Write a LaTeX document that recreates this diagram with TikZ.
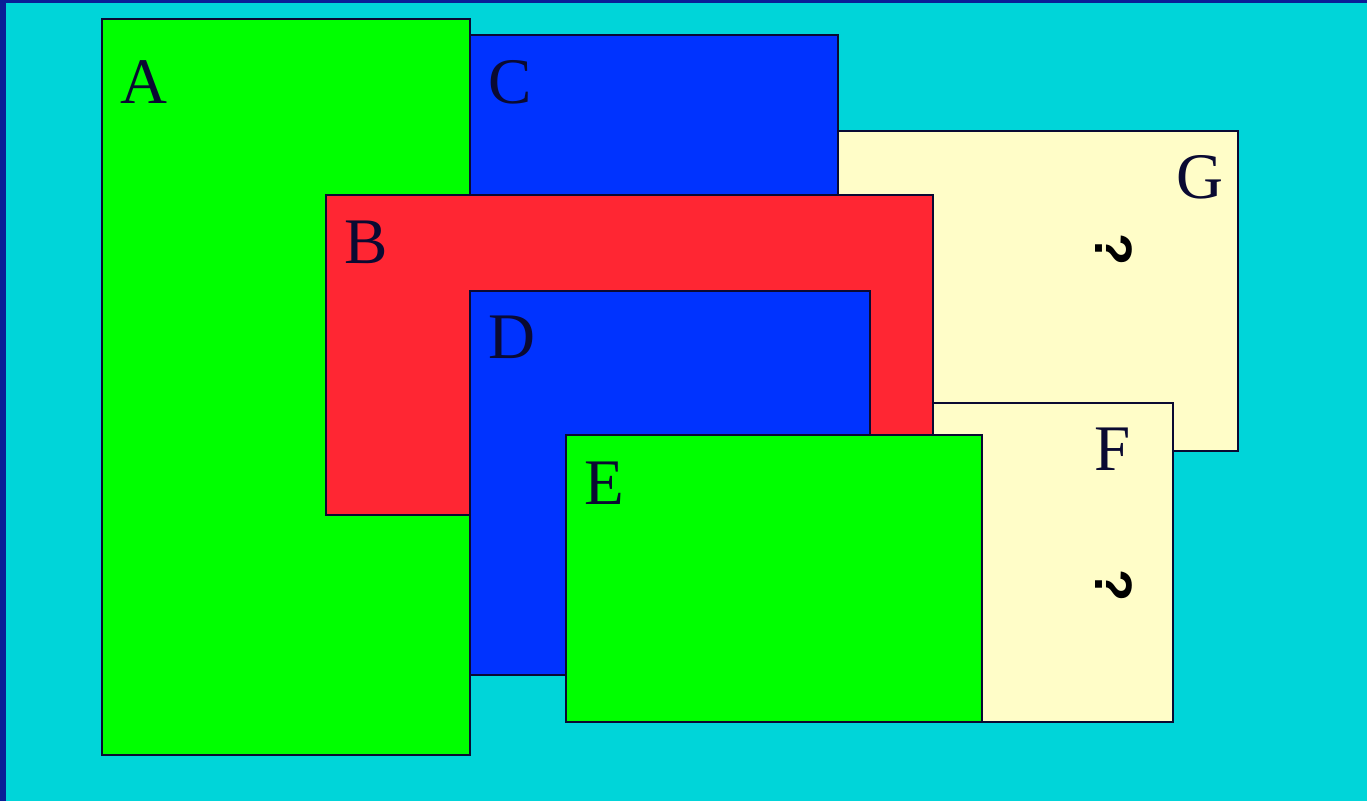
\documentclass[tikz,border=0pt]{standalone}
\usepackage{fontspec}
\setmainfont{Liberation Serif}
\newfontfamily\queryfont{Liberation Sans}
\usetikzlibrary{fit}
\definecolor{bgcyan}{RGB}{0,213,217}
\definecolor{edgeblue}{RGB}{10,30,150}
\definecolor{navy}{RGB}{10,10,50}
\definecolor{lime}{RGB}{0,255,0}
\definecolor{royal}{RGB}{0,51,255}
\definecolor{scarlet}{RGB}{255,38,51}
\definecolor{cream}{RGB}{255,253,200}

\begin{document}
\begin{tikzpicture}[x=0.02cm,y=-0.02cm,
  box/.style={draw=navy,line width=1.1pt,inner sep=0pt},
  letter/.style={font=\fontsize{37}{37}\selectfont,text=navy,anchor=base},
  query/.style={font=\queryfont\bfseries\fontsize{30}{30}\selectfont,rotate=-90}]
\useasboundingbox (0,0) rectangle (1367,801);
\fill[edgeblue] (0,0) rectangle (1367,801);
\fill[bgcyan] (6,3) rectangle (1367,801);
% boxes, back to front
\node[box,fill=lime,fit={(102,19) (470,755)}] (A) {};
\node[box,fill=royal,fit={(470,35) (838,260)}] (C) {};
\node[box,fill=cream,fit={(838,131) (1238,451)}] (G) {};
\node[box,fill=cream,fit={(880,403) (1173,722)}] (F) {};
\node[box,fill=scarlet,fit={(326,195) (933,515)}] (B) {};
\node[box,fill=royal,fit={(470,291) (870,675)}] (D) {};
\node[box,fill=lime,fit={(566,435) (982,722)}] (E) {};
% letters
\node[letter] (lA) at (144,103) {A};
\node[letter] (lC) at (510,103) {C};
\node[letter] (lG) at (1200,198) {G};
\node[letter] (lB) at (366,263) {B};
\node[letter] (lD) at (512,358) {D};
\node[letter] (lE) at (604,504) {E};
\node[letter] (lF) at (1113,470) {F};
\node[query] (qG) at (1114,250) {?};
\node[query] (qF) at (1114,586) {?};
\end{tikzpicture}
\end{document}
